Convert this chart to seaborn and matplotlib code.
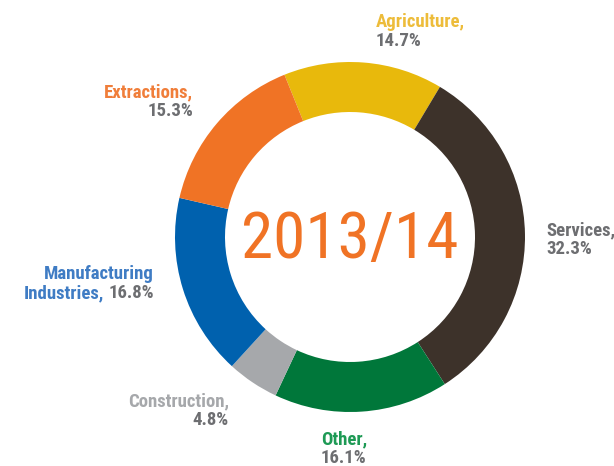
import matplotlib
matplotlib.use("Agg")
from matplotlib import pyplot as plt
import seaborn as sns

# sector shares, clockwise from the top-left
sectors = ["Agriculture", "Services", "Other", "Construction", "Manufacturing Industries", "Extractions"]
shares = [14.7, 32.3, 16.1, 4.8, 16.8, 15.3]
colors = ["#E8B90C", "#3D322A", "#00773A", "#A6A8AB", "#0061AE", "#F07325"]
label_colors = ["#EDBC3A", "#3D322A", "#1E9A55", "#A6A8AB", "#3F7CC4", "#F07E3A"]
center_title = "2013/14"

sns.set_theme(style="white")
plt.rcParams['font.family'] = ['Roboto Condensed', 'Liberation Sans Narrow', 'DejaVu Sans']

W, H = 614, 466
fig = plt.figure(figsize=(W / 100, H / 100), dpi=100)
ax = fig.add_axes([0, 0, 1, 1])

cx, cy, r = 350, H - 237, 175
ax.pie(shares, colors=colors, startangle=112, counterclock=False,
       center=(cx, cy), radius=r, frame=True,
       wedgeprops=dict(width=50, linewidth=0))
ax.set_xlim(0, W)
ax.set_ylim(0, H)
ax.set_aspect("equal")
ax.axis("off")

ax.text(cx, cy - 3, center_title, color="#F07325", fontsize=47,
        ha="center", va="center")

gray = "#6D6E71"
fs = 13.5


def label(x, y, name, pct, color, ha):
    ax.text(x, H - y, name, color=color, fontsize=fs, fontweight="bold", ha=ha, va="baseline")
    ax.text(x, H - y - 19, pct, color=gray, fontsize=fs, fontweight="bold", ha=ha, va="baseline")


label(376, 27, "Agriculture,", "14.7%", label_colors[0], "left")
label(193, 97, "Extractions,", "15.3%", label_colors[5], "right")
label(546, 235, "Services,", "32.3%", gray, "left")
label(229, 406, "Construction,", "4.8%", label_colors[3], "right")
label(321, 444, "Other,", "16.1%", label_colors[2], "left")

# manufacturing label has mixed colours on its second line
ax.text(154, H - 279, "Manufacturing", color=label_colors[4], fontsize=fs, fontweight="bold",
        ha="right", va="baseline")
ax.text(154, H - 298, "16.8%", color=gray, fontsize=fs, fontweight="bold", ha="right", va="baseline")
ax.text(104, H - 298, "Industries,", color=label_colors[4], fontsize=fs, fontweight="bold",
        ha="right", va="baseline")

plt.savefig("out.png", dpi=100)
plt.close("all")
